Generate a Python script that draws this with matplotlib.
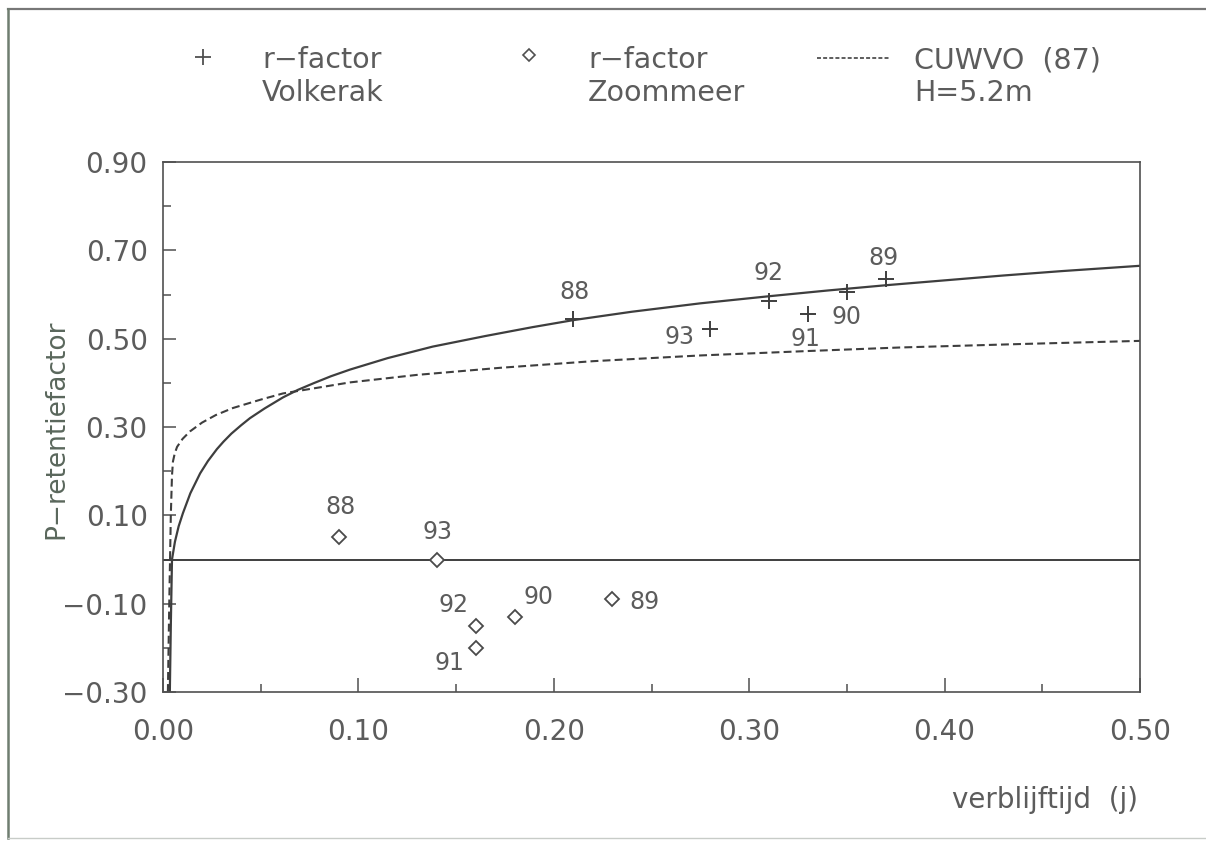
import matplotlib
matplotlib.use("Agg")
import matplotlib.pyplot as plt
from matplotlib.lines import Line2D

plt.rcParams['font.family'] = ['DejaVu Sans']

# ---------------- data ----------------
# Volkerak r-factor (+)
volk_years = ["88", "92", "93", "91", "90", "89"]
volk_t = [0.21, 0.31, 0.28, 0.33, 0.35, 0.37]
volk_r = [0.545, 0.585, 0.522, 0.555, 0.605, 0.635]

# Zoommeer r-factor (diamond)
zoom_years = ["88", "93", "92", "91", "90", "89"]
zoom_t = [0.09, 0.14, 0.16, 0.16, 0.18, 0.23]
zoom_r = [0.05, 0.00, -0.15, -0.20, -0.13, -0.09]

# solid model curve
solid_t = [0.0035, 0.0040, 0.0046, 0.0061, 0.0080, 0.0102, 0.014, 0.019, 0.023,
           0.0276, 0.031, 0.035, 0.040, 0.0445, 0.052, 0.0614, 0.069, 0.077,
           0.086, 0.0957, 0.115, 0.138, 0.165, 0.189, 0.21, 0.24, 0.275, 0.31,
           0.34, 0.37, 0.40, 0.43, 0.46, 0.50]
solid_r = [-0.30, -0.15, 0.00, 0.040, 0.075, 0.105, 0.150, 0.195, 0.223,
           0.250, 0.267, 0.285, 0.304, 0.320, 0.342, 0.367, 0.384, 0.399,
           0.415, 0.430, 0.456, 0.482, 0.506, 0.526, 0.542, 0.561, 0.580, 0.596,
           0.609, 0.621, 0.632, 0.643, 0.653, 0.665]

# dashed CUWVO (87) H=5.2m curve
cuwvo_t = [0.0025, 0.0032, 0.0040, 0.0046, 0.0051, 0.0060, 0.0072, 0.010, 0.0138,
           0.020, 0.027, 0.0358, 0.050, 0.0614, 0.0957, 0.13, 0.1725, 0.22, 0.275,
           0.33, 0.377, 0.44, 0.50]
cuwvo_r = [-0.30, -0.10, 0.10, 0.19, 0.222, 0.240, 0.255, 0.273, 0.290,
           0.310, 0.327, 0.343, 0.362, 0.376, 0.401, 0.418, 0.434, 0.449, 0.462,
           0.472, 0.480, 0.488, 0.495]

x_ticks = [0.00, 0.10, 0.20, 0.30, 0.40, 0.50]
y_ticks = [-0.30, -0.10, 0.10, 0.30, 0.50, 0.70, 0.90]

# label offsets (points) for annotations
volk_off = [(1, 19), (0, 20), (-22, -6), (-2, -18), (0, -18), (-2, 15)]
zoom_off = [(1, 22), (1, 20), (-16, 15), (-19, -11), (17, 14), (23, -2)]

# ---------------- figure ----------------
W, H = 1206, 843
fig = plt.figure(figsize=(W / 100, H / 100), dpi=100)
fig.patch.set_facecolor('white')

def fx(px):
    return px / W

def fy(py):
    return 1 - py / H

txt_col = '#5c5c5c'
line_col = '#3e3e3e'

ax = fig.add_axes([fx(163), fy(692), (1140 - 163) / W, (692 - 162) / H])
ax.set_xlim(0, 0.5)
ax.set_ylim(-0.3, 0.9)

for s in ax.spines.values():
    s.set_color('#505050')
    s.set_linewidth(1.2)

ax.set_xticks(x_ticks)
ax.set_xticklabels(["%.2f" % v for v in x_ticks])
ax.set_xticks([0.05, 0.15, 0.25, 0.35, 0.45], minor=True)
ax.set_yticks(y_ticks)
ax.set_yticklabels([("%.2f" % v).replace('-', '\u2212') for v in y_ticks])
ax.set_yticks([-0.2, 0.0, 0.2, 0.4, 0.6, 0.8], minor=True)

ax.tick_params(axis='x', which='major', direction='in', length=10, width=1.1,
               color='#505050', labelsize=20, labelcolor=txt_col, pad=19,
               top=False)
ax.tick_params(axis='x', which='minor', direction='in', length=6, width=1.1,
               color='#505050', top=False)
ax.tick_params(axis='y', which='major', direction='in', length=9, width=1.1,
               color='#505050', labelsize=20, labelcolor=txt_col, pad=11,
               right=False)
ax.tick_params(axis='y', which='minor', direction='in', length=6, width=1.1,
               color='#505050', right=False)

# curves
ax.plot(solid_t, solid_r, color=line_col, lw=1.6, solid_joinstyle='round')
ax.plot(cuwvo_t, cuwvo_r, color=line_col, lw=1.5, ls=(0, (3.8, 2.0)))
ax.axhline(0, color=line_col, lw=1.4)

# points
ax.plot(volk_t, volk_r, ls='none', marker='+', ms=11, mew=1.4, color=line_col)
ax.plot(zoom_t, zoom_r, ls='none', marker='D', ms=7.2, mew=1.3,
        mfc='white', mec='#4a4a4a')

for lab, t, r, off in zip(volk_years, volk_t, volk_r, volk_off):
    ax.annotate(lab, (t, r), xytext=off, textcoords='offset points',
                ha='center', va='center', fontsize=17, color=txt_col)
for lab, t, r, off in zip(zoom_years, zoom_t, zoom_r, zoom_off):
    ax.annotate(lab, (t, r), xytext=off, textcoords='offset points',
                ha='center', va='center', fontsize=17, color=txt_col)

# axis labels
fig.text(fx(56), fy(429), 'P\u2212retentiefactor', rotation=90, ha='center',
         va='center', fontsize=19, color='#5a675c')
fig.text(fx(1138), fy(800), 'verblijftijd  (j)', ha='right', va='center',
         fontsize=20, color=txt_col)

# legend (drawn in figure coordinates)
fig.add_artist(Line2D([fx(203)], [fy(57)], marker='+', ms=11, mew=1.3,
                      color='#505050', transform=fig.transFigure))
fig.add_artist(Line2D([fx(529)], [fy(55)], marker='D', ms=6.5, mew=1.2,
                      mfc='white', mec='#505050', transform=fig.transFigure))
fig.add_artist(Line2D([fx(817), fx(890)], [fy(58), fy(58)], color='#505050',
                      lw=1.3, ls=(0, (2.2, 1.2)), transform=fig.transFigure))
leg_kw = dict(fontsize=20.5, color=txt_col, ha='left', va='baseline')
fig.text(fx(262), fy(68), 'r\u2212factor', **leg_kw)
fig.text(fx(262), fy(101), 'Volkerak', **leg_kw)
fig.text(fx(588), fy(68), 'r\u2212factor', **leg_kw)
fig.text(fx(588), fy(101), 'Zoommeer', **leg_kw)
fig.text(fx(914), fy(68), 'CUWVO  (87)', **leg_kw)
fig.text(fx(914), fy(101), 'H=5.2m', **leg_kw)

# outer frame of the scanned figure
fig.add_artist(Line2D([fx(8), fx(1206)], [fy(9), fy(9)], color='#777777', lw=1.6,
                      transform=fig.transFigure))
fig.add_artist(Line2D([fx(8), fx(8)], [fy(9), fy(838)], color='#6f7d70', lw=1.8,
                      transform=fig.transFigure))
fig.add_artist(Line2D([fx(8), fx(1206)], [fy(838), fy(838)], color='#c8ccc8', lw=1.0,
                      transform=fig.transFigure))

fig.savefig('out.png', dpi=100)
